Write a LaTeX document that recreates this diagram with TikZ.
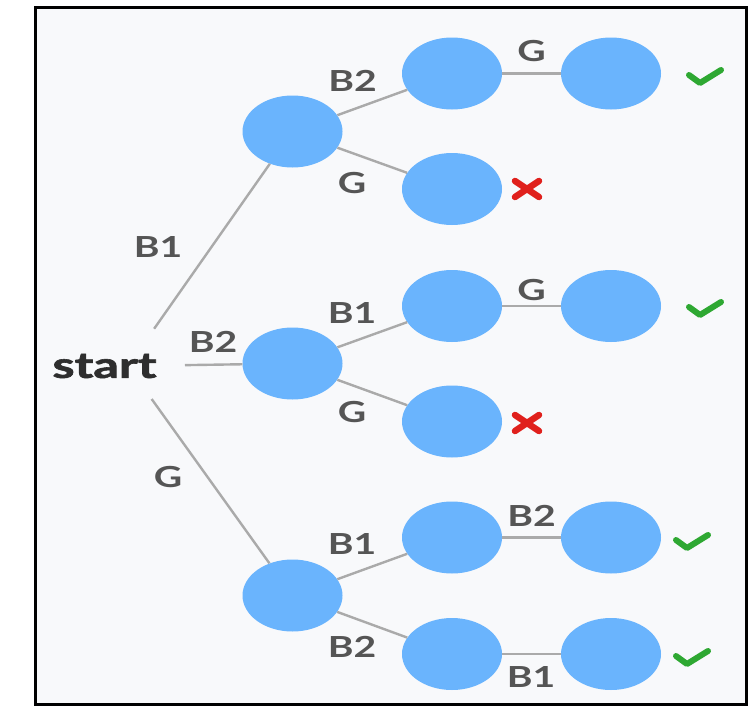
\documentclass[tikz,border=0pt]{standalone}
\usepackage{graphicx}
\usepackage{fontspec}
\setmainfont{Lato}
\newfontfamily\heavyfont{Lato}[BoldFeatures={FakeBold=1.6}]
\usetikzlibrary{shapes.geometric}
\definecolor{nodeblue}{HTML}{6AB4FD}
\definecolor{bgc}{HTML}{F8F9FB}
\definecolor{edgegray}{HTML}{AAAAAA}
\definecolor{labgray}{HTML}{555555}
\definecolor{startgray}{HTML}{2E2E2E}
\definecolor{okgreen}{HTML}{2EA832}
\definecolor{nored}{HTML}{E0201C}
\newcommand\wide[1]{\scalebox{1.35}[1]{#1}}
\tikzset{
  st/.style={ellipse, fill=nodeblue, draw=none, minimum width=100pt, minimum height=72pt, inner sep=0pt},
  lbl/.style={text=labgray, font=\bfseries\fontsize{29}{29}\selectfont, inner sep=0pt},
  conn/.style={draw=edgegray, line width=2.4pt},
  pics/okmark/.style={code={\draw[okgreen, line width=6pt, line cap=round, line join=round] (-16,-2) -- (-5,6) -- (16,-7);}},
  pics/nomark/.style={code={\draw[nored, line width=6.5pt, line cap=round] (-12,-8) -- (12,8) (-12,8) -- (12,-8);}}
}
\begin{document}
\begin{tikzpicture}[x=1pt,y=-1pt]
\useasboundingbox (0,0) rectangle (753,707);
\draw[line width=3pt, fill=bgc] (35,7) rectangle (746,704);

\node[text=startgray, font=\heavyfont\bfseries\fontsize{36}{36}\selectfont, inner sep=0pt] (start) at (104.5,366) {\scalebox{1.4}[1]{start}};
\coordinate (s) at (128,366);

\node[st] (a) at (292.5,131.5) {};
\node[st] (b) at (292.5,363.5) {};
\node[st] (c) at (292.5,595.5) {};

\node[st] (a1) at (452,73.5) {};
\node[st] (a2) at (452,189) {};
\node[st] (b1) at (452,306) {};
\node[st] (b2) at (452,421.5) {};
\node[st] (c1) at (452,537.5) {};
\node[st] (c2) at (452,654) {};

\node[st] (a1x) at (611,73.5) {};
\node[st] (b1x) at (611,306) {};
\node[st] (c1x) at (611,537.5) {};
\node[st] (c2x) at (611,654) {};

\draw[conn, shorten <=45.5pt] (s) -- (a);
\draw[conn, shorten <=57pt] (s) -- (b);
\draw[conn, shorten <=40.6pt] (s) -- (c);

\draw[conn] (a) -- (a1);
\draw[conn] (a) -- (a2);
\draw[conn] (b) -- (b1);
\draw[conn] (b) -- (b2);
\draw[conn] (c) -- (c1);
\draw[conn] (c) -- (c2);
\draw[conn] (a1) -- (a1x);
\draw[conn] (b1) -- (b1x);
\draw[conn] (c1) -- (c1x);
\draw[conn] (c2) -- (c2x);

\node[lbl] (l1) at (158,247) {\wide{B1}};
\node[lbl] (l2) at (213,341.5) {\wide{B2}};
\node[lbl] (l3) at (168,477) {\wide{G}};
\node[lbl] (l4) at (352.5,80.5) {\wide{B2}};
\node[lbl] (l5) at (352,183) {\wide{G}};
\node[lbl] (l6) at (352,312.5) {\wide{B1}};
\node[lbl] (l7) at (352,412) {\wide{G}};
\node[lbl] (l8) at (352,543.5) {\wide{B1}};
\node[lbl] (l9) at (352,647) {\wide{B2}};
\node[lbl] (l10) at (531.5,51) {\wide{G}};
\node[lbl] (l11) at (531.5,290) {\wide{G}};
\node[lbl] (l12) at (531.5,516) {\wide{B2}};
\node[lbl] (l13) at (531,677) {\wide{B1}};

\pic at (705,77) {okmark};
\pic at (705,309) {okmark};
\pic at (692,542) {okmark};
\pic at (692,658) {okmark};
\pic at (527,189) {nomark};
\pic at (527,423) {nomark};
\end{tikzpicture}
\end{document}
